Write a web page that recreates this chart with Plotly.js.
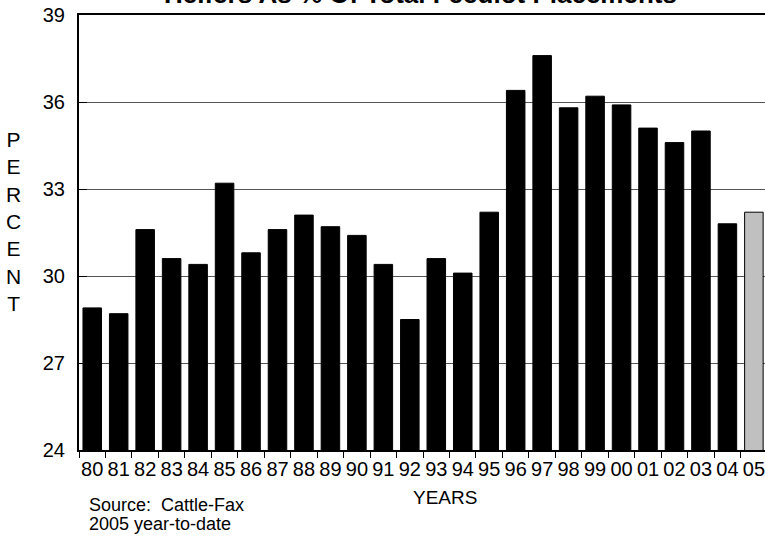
<!DOCTYPE html>
<html>
<head>
<meta charset="utf-8">
<script src="https://cdn.plot.ly/plotly-3.0.1.min.js"></script>
<style>
  html, body { margin: 0; padding: 0; background: #fff; }
  #chart { width: 765px; height: 541px; }
</style>
</head>
<body>
<div id="chart"></div>
<script>
const years = ["80","81","82","83","84","85","86","87","88","89","90","91","92","93","94","95","96","97","98","99","00","01","02","03","04","05"];
const percentValues = [28.9,28.7,31.6,30.6,30.4,33.2,30.8,31.6,32.1,31.7,31.4,30.4,28.5,30.6,30.1,32.2,36.4,37.6,35.8,36.2,35.9,35.1,34.6,35.0,31.8,32.2];
const yTicks = [24,27,30,33,36,39];

const FONT = "'Liberation Sans', Arial, sans-serif";
const barColors = years.map((y, i) => i === years.length - 1 ? "#c0c0c0" : "#000000");

const trace = {
  type: "bar",
  x: years,
  y: percentValues,
  marker: { color: barColors, line: { color: "#000", width: 1 } },
  hoverinfo: "x+y"
};

const layout = {
  width: 765,
  height: 541,
  margin: { l: 79, r: 0, t: 15, b: 91 },
  paper_bgcolor: "#fff",
  plot_bgcolor: "#fff",
  bargap: 0.3,
  showlegend: false,
  font: { family: FONT, size: 20, color: "#000" },
  xaxis: {
    type: "category",
    range: [-0.5, 25.42],
    showline: true, linecolor: "#000", linewidth: 2, mirror: true,
    ticks: "outside", ticklen: 6, tickcolor: "#000", tickwidth: 1,
    tickson: "boundaries",
    tickangle: 0,
    showgrid: false,
    tickfont: { family: FONT, size: 20, color: "#000" },
    fixedrange: true
  },
  yaxis: {
    range: [24, 39],
    tickvals: yTicks,
    ticktext: yTicks.map(String),
    showline: true, linecolor: "#000", linewidth: 2,
    ticks: "inside", ticklen: 8, tickcolor: "#000", tickwidth: 1,
    showgrid: true, gridcolor: "#555", gridwidth: 1,
    zeroline: false,
    ticklabelstandoff: 8,
    tickfont: { family: FONT, size: 20, color: "#000" },
    fixedrange: true
  },
  annotations: [
    {
      text: "<b>Heifers As % Of Total Feedlot Placements</b>",
      xref: "paper", yref: "paper",
      x: (420.5 - 79) / 686, y: 1,
      xanchor: "center", yanchor: "middle", yshift: 21,
      showarrow: false,
      font: { family: FONT, size: 26, color: "#000" }
    },
    {
      text: "P<br>E<br>R<br>C<br>E<br>N<br>T",
      xref: "paper", yref: "paper",
      x: (13 - 79) / 686, y: (450 - 221) / 435,
      xanchor: "center", yanchor: "middle",
      showarrow: false, align: "center",
      font: { family: FONT, size: 21, color: "#000" }
    },
    {
      text: "YEARS",
      xref: "paper", yref: "paper",
      x: (444.5 - 79) / 686, y: (450 - 497) / 435,
      xanchor: "center", yanchor: "middle",
      showarrow: false,
      font: { family: FONT, size: 19, color: "#000" }
    },
    {
      text: "Source:  Cattle-Fax",
      xref: "paper", yref: "paper",
      x: (87 - 79) / 686, y: (450 - 505) / 435,
      xanchor: "left", yanchor: "middle",
      showarrow: false,
      font: { family: FONT, size: 18, color: "#000" }
    },
    {
      text: "2005 year-to-date",
      xref: "paper", yref: "paper",
      x: (87 - 79) / 686, y: (450 - 524) / 435,
      xanchor: "left", yanchor: "middle",
      showarrow: false,
      font: { family: FONT, size: 18, color: "#000" }
    }
  ]
};

Plotly.newPlot("chart", [trace], layout, { displayModeBar: false, staticPlot: true });
</script>
</body>
</html>
